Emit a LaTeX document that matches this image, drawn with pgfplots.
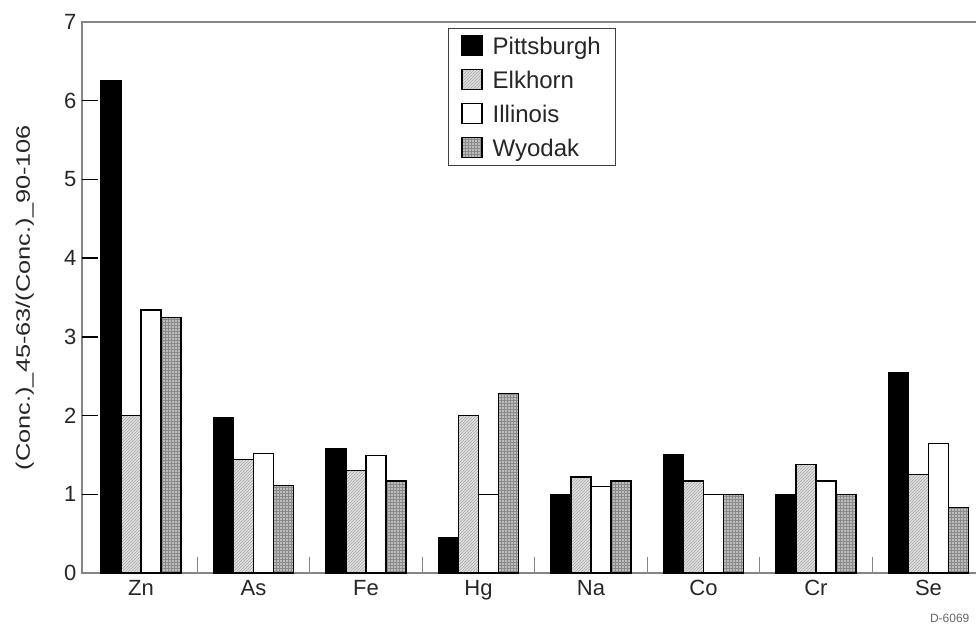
\documentclass[border=0pt]{standalone}
\usepackage{fontspec}
\setmainfont{Liberation Sans}
\usepackage{graphicx}
\usepackage{pgfplots}
\pgfplotsset{compat=1.18}
\usetikzlibrary{patterns}

\definecolor{axisgray}{HTML}{858585}
\definecolor{elkfill}{HTML}{E0E0E0}
\definecolor{elkhatch}{HTML}{A8A8A8}
\definecolor{wyofill}{HTML}{BDBDBD}
\definecolor{wyogrid}{HTML}{8A8A8A}

\begin{document}
\begin{tikzpicture}
\begin{axis}[
  scale only axis,
  width=914pt, height=551pt,
  at={(0,0)}, anchor=south west,
  xmin=-0.524, xmax=7.6,
  ymin=0, ymax=7,
  clip=false,
  ybar=0pt, bar width=20pt,
  axis line style={draw=axisgray, line width=1.6pt},
  xtick pos=bottom,
  ytick pos=left,
  tick align=inside,
  major tick length=16pt,
  ytick={0,1,2,3,4,5,6,7},
  every y tick/.style={draw=black, line width=1.3pt},
  % ticks sit between the element groups; names are centred under each group
  xtick={0.5,1.5,...,7.5},
  xticklabels={Zn,As,Fe,Hg,Na,Co,Cr,Se},
  xtick style={draw=axisgray, line width=1.2pt},
  xticklabel style={xshift=-56.3pt, yshift=-4pt},
  yticklabel style={xshift=-2pt},
  /pgf/number format/assume math mode=true,
  tick label style={font=\fontsize{22}{22}\selectfont, text=black!85},
  ylabel={\scalebox{1.3}[1]{(Conc.)\_45-63/(Conc.)\_90-106}},
  ylabel style={font=\fontsize{19.5}{20}\selectfont, text=black!85, at={(axis description cs:-0.0625,0.5)}, anchor=center},
  legend style={at={(rel axis cs:0.4004,0.989)}, anchor=north west,
    draw=black!75, line width=1pt,
    font=\fontsize{24}{27}\selectfont, text=black!85,
    inner xsep=13pt, inner ysep=6pt, row sep=11pt,
    legend cell align=left},
  legend image code/.code={\draw[#1, line width=1.2pt] (0pt,-9pt) rectangle (20pt,11pt);
    \path (28pt,0pt);},
]
% Pittsburgh
\addplot[draw=black, line width=1.2pt, fill=black]
  coordinates {(0,6.25) (1,1.98) (2,1.58) (3,0.45) (4,1.00) (5,1.50) (6,1.00) (7,2.55)};
% Elkhorn
\addplot[draw=black, line width=1.2pt, fill=elkfill, postaction={pattern=north east lines, pattern color=elkhatch}]
  coordinates {(0,2.00) (1,1.44) (2,1.30) (3,2.00) (4,1.22) (5,1.17) (6,1.38) (7,1.25)};
% Illinois
\addplot[draw=black, line width=1.2pt, fill=white]
  coordinates {(0,3.34) (1,1.52) (2,1.49) (3,1.00) (4,1.10) (5,1.00) (6,1.17) (7,1.65)};
% Wyodak
\addplot[draw=black, line width=1.2pt, fill=wyofill, postaction={pattern=grid, pattern color=wyogrid}]
  coordinates {(0,3.25) (1,1.11) (2,1.17) (3,2.28) (4,1.17) (5,1.00) (6,1.00) (7,0.83)};
\legend{Pittsburgh, Elkhorn, Illinois, Wyodak}
% inward tick marks along the value axis
\foreach \v in {1,...,6}{
  \edef\tmp{\noexpand\draw[black, line width=1.3pt] (axis cs:-0.524,\v) -- ++(16pt,0pt);}
  \tmp
}
\node[anchor=west, font=\fontsize{12}{12}\selectfont, text=black!60] at (axis cs:7.0,0) [yshift=-45pt, xshift=-2pt] {D-6069};
\end{axis}
\pgfresetboundingbox
\path[use as bounding box] (-82pt,-55pt) rectangle (894pt,573pt);
\end{tikzpicture}
\end{document}
